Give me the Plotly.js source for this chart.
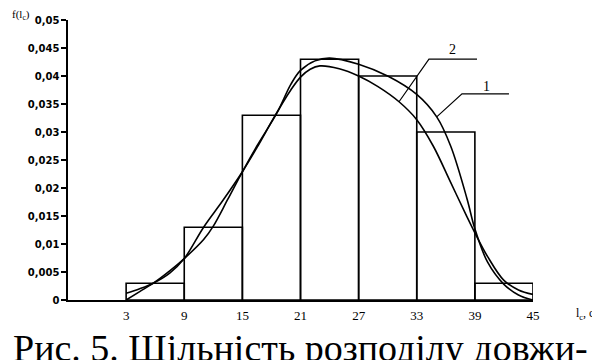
<!DOCTYPE html>
<html>
<head>
<meta charset="utf-8">
<script src="https://cdn.plot.ly/plotly-3.0.1.min.js"></script>
<style>
  body { margin: 0; background: #fff; }
  #chart { width: 592px; height: 360px; }
</style>
</head>
<body>
<div id="chart"></div>
<script>
// histogram of l_c (interval centres, width 6)
var binCenters = [6, 12, 18, 24, 30, 36, 42];
var binDensity = [0.003, 0.013, 0.033, 0.043, 0.040, 0.030, 0.003];

// curve 1 (outer on the right)
var curve1X = [3, 4.4, 5.8, 7.5, 9, 11, 12, 13.5, 15, 16.5, 18.6, 20, 21, 22.5, 24, 27, 30.1, 33, 35.06, 36.5, 38.2, 39, 40.3, 42, 43.5, 45];
var curve1Y = [0, 0.0015, 0.003, 0.0052, 0.0074, 0.0108, 0.0132, 0.018, 0.0229, 0.0275, 0.0335, 0.0385, 0.041, 0.0427, 0.0432, 0.0421, 0.0399, 0.0367, 0.0327, 0.0275, 0.018, 0.0127, 0.0068, 0.0028, 0.0009, 0];

// curve 2 (inner on the right)
var curve2X = [3, 4.4, 5.8, 7.5, 9, 11, 13, 15, 16.5, 18.4, 20, 21, 22, 23, 25, 27, 29, 31.17, 33, 34.7, 36.5, 38.2, 39, 40.3, 42, 43.5, 45];
var curve2Y = [0.0012, 0.002, 0.003, 0.0048, 0.0074, 0.013, 0.0178, 0.0229, 0.0272, 0.033, 0.0375, 0.0398, 0.0412, 0.0418, 0.0413, 0.0400, 0.0381, 0.0354, 0.0322, 0.0275, 0.021, 0.0148, 0.012, 0.0078, 0.0035, 0.0018, 0.001];

var xTicks = [3, 9, 15, 21, 27, 33, 39, 45];

// curve labels: text spot, leader elbow, end of the horizontal stroke, point on curve
var labelText = ['1', '2'];
var labelX = [40.25, 36.74];
var labelY = [0.0382, 0.0448];
var elbowX = [37.67, 34.26];
var strokeEndX = [42.52, 39.22];
var elbowY = [0.0368, 0.0430];
var targetX = [35.06, 31.17];
var targetY = [0.0327, 0.0354];

var serif = 'Liberation Serif, serif';

var bars = {
  type: 'bar',
  x: binCenters,
  y: binDensity,
  width: 6,
  marker: { color: 'rgba(0,0,0,0)', line: { color: '#000', width: 1.6 } },
  hoverinfo: 'skip'
};

var line1 = {
  type: 'scatter', mode: 'lines',
  x: curve1X, y: curve1Y,
  line: { color: '#000', width: 1.6, shape: 'spline', smoothing: 1 }
};

var line2 = {
  type: 'scatter', mode: 'lines',
  x: curve2X, y: curve2Y,
  line: { color: '#000', width: 1.6, shape: 'spline', smoothing: 1 }
};

var shapes = [];
var annotations = [];
for (var i = 0; i < labelText.length; i++) {
  shapes.push({
    type: 'path', xref: 'x', yref: 'y',
    path: 'M' + targetX[i] + ',' + targetY[i] + ' L' + elbowX[i] + ',' + elbowY[i] + ' L' + strokeEndX[i] + ',' + elbowY[i],
    line: { color: '#000', width: 1.2 }
  });
  annotations.push({
    xref: 'x', yref: 'y', x: labelX[i], y: labelY[i],
    text: labelText[i], showarrow: false,
    font: { family: serif, size: 14, color: '#000' }
  });
}

annotations.push({
  xref: 'paper', yref: 'paper', x: -0.125, y: 1.018,
  xanchor: 'left', yanchor: 'middle', showarrow: false,
  text: 'f(l<sub>c</sub>)',
  font: { family: serif, size: 11, color: '#000' }
});
annotations.push({
  xref: 'paper', yref: 'paper', x: 1.088, y: -0.05,
  xanchor: 'left', yanchor: 'middle', showarrow: false,
  text: 'l<sub>c</sub>, cm',
  font: { family: serif, size: 12, color: '#000' }
});
annotations.push({
  xref: 'paper', yref: 'paper', x: -0.122, y: -0.172,
  xanchor: 'left', yanchor: 'middle', showarrow: false,
  text: 'Рис. 5. Щільність розподілу довжи-',
  font: { family: serif, size: 38, color: '#000' }
});

var layout = {
  width: 592, height: 360,
  margin: { l: 68, r: 59, t: 20, b: 60 },
  paper_bgcolor: '#fff', plot_bgcolor: '#fff',
  showlegend: false,
  separators: ', ',
  bargap: 0,
  xaxis: {
    range: [-3, 45],
    tickvals: xTicks,
    ticks: '',
    ticklabelstandoff: 3,
    showgrid: false, zeroline: false,
    showline: true, linecolor: '#000', linewidth: 1.6,
    tickfont: { family: serif, size: 13, color: '#000' }
  },
  yaxis: {
    range: [0, 0.05],
    dtick: 0.005,
    ticks: 'outside', ticklen: 5, tickwidth: 1.3, tickcolor: '#000',
    showgrid: false, zeroline: false,
    showline: true, linecolor: '#000', linewidth: 1.6,
    tickfont: { family: 'DejaVu Sans, sans-serif', size: 10, color: '#000', weight: 'bold' }
  },
  shapes: shapes,
  annotations: annotations
};

Plotly.newPlot('chart', [bars, line1, line2], layout, { displayModeBar: false, staticPlot: true });
</script>
</body>
</html>
